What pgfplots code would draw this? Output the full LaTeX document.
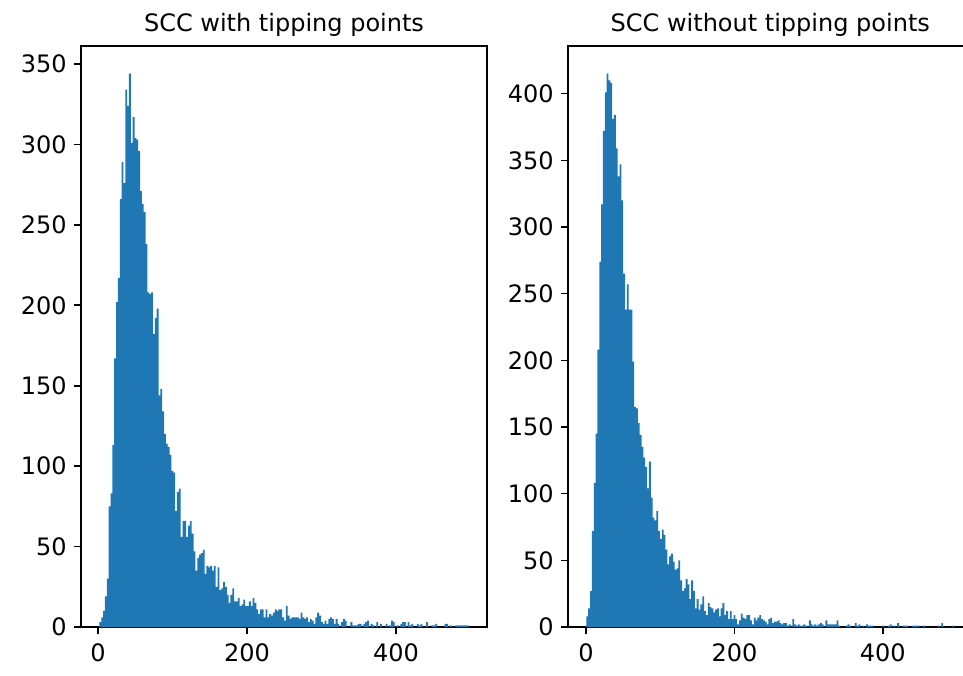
\documentclass[border=0pt]{standalone}
\usepackage{fontspec}
\setmainfont{DejaVu Sans}
\usepackage{pgfplots}
\pgfplotsset{compat=1.18}
\usepackage{pgfplotstable}
\definecolor{mplblue}{HTML}{1F77B4}

% Histogram counts, 200 equal-width bins per panel (column "bin" is the bin index).
\pgfplotstableread[row sep=\\]{
bin count\\
0 3\\ 1 6\\ 2 10\\ 3 19\\ 4 30\\ 5 75\\ 6 83\\ 7 113\\ 8 167\\ 9 202\\
10 217\\ 11 266\\ 12 289\\ 13 276\\ 14 334\\ 15 324\\ 16 344\\ 17 301\\ 18 317\\ 19 304\\
20 303\\ 21 296\\ 22 271\\ 23 263\\ 24 258\\ 25 238\\ 26 208\\ 27 207\\ 28 208\\ 29 182\\
30 192\\ 31 198\\ 32 144\\ 33 148\\ 34 134\\ 35 120\\ 36 114\\ 37 112\\ 38 107\\ 39 97\\
40 96\\ 41 72\\ 42 84\\ 43 86\\ 44 56\\ 45 66\\ 46 66\\ 47 56\\ 48 63\\ 49 66\\
50 58\\ 51 47\\ 52 35\\ 53 43\\ 54 45\\ 55 46\\ 56 48\\ 57 33\\ 58 38\\ 59 37\\
60 38\\ 61 35\\ 62 38\\ 63 25\\ 64 37\\ 65 23\\ 66 24\\ 67 28\\ 68 25\\ 69 20\\
70 15\\ 71 20\\ 72 24\\ 73 16\\ 74 16\\ 75 18\\ 76 13\\ 77 14\\ 78 17\\ 79 13\\
80 13\\ 81 16\\ 82 13\\ 83 18\\ 84 15\\ 85 11\\ 86 8\\ 87 11\\ 88 11\\ 89 6\\
90 11\\ 91 6\\ 92 8\\ 93 7\\ 94 9\\ 95 11\\ 96 10\\ 97 11\\ 98 11\\ 99 6\\
100 4\\ 101 13\\ 102 7\\ 103 5\\ 104 6\\ 105 6\\ 106 6\\ 107 6\\ 108 5\\ 109 9\\
110 6\\ 111 5\\ 112 6\\ 113 3\\ 114 5\\ 115 4\\ 116 2\\ 117 6\\ 118 9\\ 119 7\\
120 3\\ 121 2\\ 122 4\\ 123 2\\ 124 5\\ 125 6\\ 126 5\\ 127 2\\ 128 5\\ 129 2\\
130 0\\ 131 3\\ 132 5\\ 133 4\\ 134 0\\ 135 0\\ 136 3\\ 137 1\\ 138 1\\ 139 1\\
140 2\\ 141 2\\ 142 0\\ 143 2\\ 144 3\\ 145 4\\ 146 0\\ 147 2\\ 148 1\\ 149 0\\
150 3\\ 151 0\\ 152 2\\ 153 0\\ 154 0\\ 155 2\\ 156 0\\ 157 1\\ 158 4\\ 159 3\\
160 0\\ 161 1\\ 162 0\\ 163 2\\ 164 3\\ 165 3\\ 166 0\\ 167 3\\ 168 1\\ 169 2\\
170 0\\ 171 0\\ 172 2\\ 173 1\\ 174 2\\ 175 0\\ 176 0\\ 177 3\\ 178 0\\ 179 0\\
180 1\\ 181 1\\ 182 2\\ 183 0\\ 184 0\\ 185 0\\ 186 0\\ 187 2\\ 188 2\\ 189 0\\
190 1\\ 191 0\\ 192 0\\ 193 1\\ 194 1\\ 195 1\\ 196 1\\ 197 1\\ 198 1\\ 199 1\\
200 0\\
}\withtipping

\pgfplotstableread[row sep=\\]{
bin count\\
0 8\\ 1 14\\ 2 27\\ 3 72\\ 4 108\\ 5 145\\ 6 208\\ 7 274\\ 8 317\\ 9 372\\
10 401\\ 11 415\\ 12 410\\ 13 408\\ 14 381\\ 15 384\\ 16 359\\ 17 338\\ 18 347\\ 19 320\\
20 265\\ 21 238\\ 22 257\\ 23 238\\ 24 238\\ 25 199\\ 26 165\\ 27 164\\ 28 153\\ 29 144\\
30 135\\ 31 127\\ 32 120\\ 33 104\\ 34 124\\ 35 97\\ 36 82\\ 37 80\\ 38 87\\ 39 72\\
40 66\\ 41 73\\ 42 69\\ 43 58\\ 44 47\\ 45 53\\ 46 55\\ 47 49\\ 48 43\\ 49 44\\
50 50\\ 51 35\\ 52 27\\ 53 29\\ 54 36\\ 55 32\\ 56 21\\ 57 35\\ 58 27\\ 59 14\\
60 21\\ 61 13\\ 62 17\\ 63 23\\ 64 12\\ 65 9\\ 66 18\\ 67 15\\ 68 14\\ 69 11\\
70 13\\ 71 14\\ 72 8\\ 73 14\\ 74 18\\ 75 9\\ 76 12\\ 77 6\\ 78 12\\ 79 6\\
80 9\\ 81 6\\ 82 2\\ 83 5\\ 84 10\\ 85 7\\ 86 6\\ 87 9\\ 88 9\\ 89 5\\
90 2\\ 91 7\\ 92 5\\ 93 7\\ 94 9\\ 95 6\\ 96 5\\ 97 4\\ 98 2\\ 99 6\\
100 7\\ 101 3\\ 102 4\\ 103 4\\ 104 5\\ 105 3\\ 106 2\\ 107 3\\ 108 3\\ 109 1\\
110 2\\ 111 0\\ 112 6\\ 113 2\\ 114 1\\ 115 2\\ 116 1\\ 117 1\\ 118 2\\ 119 1\\
120 0\\ 121 5\\ 122 2\\ 123 1\\ 124 2\\ 125 1\\ 126 2\\ 127 3\\ 128 2\\ 129 0\\
130 5\\ 131 2\\ 132 2\\ 133 2\\ 134 2\\ 135 2\\ 136 5\\ 137 1\\ 138 0\\ 139 0\\
140 0\\ 141 1\\ 142 2\\ 143 1\\ 144 0\\ 145 0\\ 146 3\\ 147 1\\ 148 2\\ 149 0\\
150 1\\ 151 0\\ 152 2\\ 153 1\\ 154 1\\ 155 1\\ 156 0\\ 157 0\\ 158 0\\ 159 0\\
160 0\\ 161 1\\ 162 0\\ 163 0\\ 164 1\\ 165 2\\ 166 0\\ 167 1\\ 168 0\\ 169 3\\
170 0\\ 171 0\\ 172 1\\ 173 1\\ 174 1\\ 175 0\\ 176 0\\ 177 1\\ 178 1\\ 179 1\\
180 1\\ 181 0\\ 182 0\\ 183 1\\ 184 0\\ 185 0\\ 186 0\\ 187 0\\ 188 0\\ 189 0\\
190 0\\ 191 1\\ 192 0\\ 193 3\\ 194 0\\ 195 0\\ 196 0\\ 197 0\\ 198 0\\ 199 1\\
200 0\\
}\withouttipping

\pgfplotsset{
  histax/.style={
    scale only axis,
    height=290.5pt,
    xmin=-10, xmax=210, ymin=0,
    axis line style={line width=0.8pt},
    tick align=outside,
    xtick pos=bottom, ytick pos=left,
    major tick length=3.5pt,
    every tick/.style={black, line width=0.8pt},
    minor tick num=0,
    tick label style={font=\fontsize{12}{14}\selectfont, inner sep=0pt},
    xticklabel shift=4.5pt,
    yticklabel shift=3.5pt,
    /pgf/number format/assume math mode=true,
    scaled y ticks=false,
    title style={font=\fontsize{12}{14}\selectfont, inner sep=0pt, yshift=-1.5pt},
    xticklabels={0,200,400},
    ytick distance=50,
  }
}

\begin{document}
\begin{tikzpicture}
\begin{axis}[histax, at={(40.5pt,24pt)}, anchor=south west, width=203pt,
  ymax=361.2, xtick={-0.8,79.9,160.7}, title={SCC with tipping points}]
  \addplot[ybar interval, fill=mplblue, draw=none] table[x=bin, y=count]{\withtipping};
\end{axis}
\begin{axis}[histax, at={(284pt,24pt)}, anchor=south west, width=202.3pt,
  ymax=435.75, xtick={-0.2,80.5,161.2}, title={SCC without tipping points}]
  \addplot[ybar interval, fill=mplblue, draw=none] table[x=bin, y=count]{\withouttipping};
\end{axis}
\pgfresetboundingbox
\path[use as bounding box] (0,0) rectangle (481.5pt,337.5pt);
\end{tikzpicture}
\end{document}
